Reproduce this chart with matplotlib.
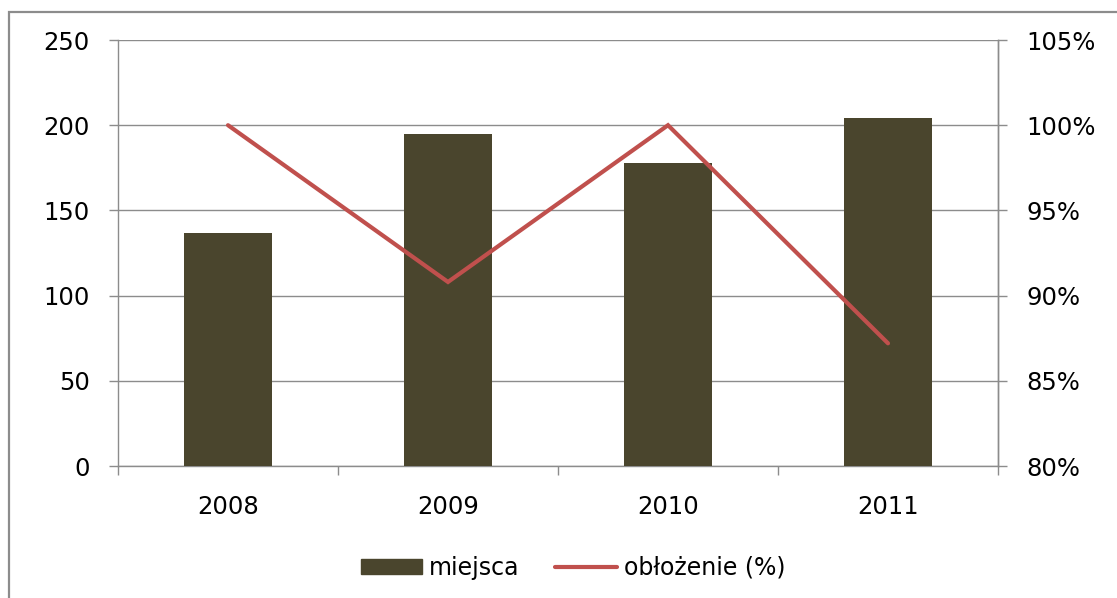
import matplotlib
matplotlib.use("Agg")
import matplotlib.pyplot as plt
import numpy as np
from matplotlib.ticker import FuncFormatter, FixedLocator
from matplotlib.patches import Rectangle
from matplotlib.lines import Line2D

years = ["2008", "2009", "2010", "2011"]
miejsca = [137, 195, 178, 204]
oblozenie = [1.00, 0.908, 1.00, 0.872]
left_ticks = [0, 50, 100, 150, 200, 250]
right_ticks = [0.80, 0.85, 0.90, 0.95, 1.00, 1.05]

bar_color = "#4A452D"
line_color = "#C0504D"
grid_color = "#8C8C8C"
fs = 17.5
lfs = 17

W, H = 1117, 598
fig = plt.figure(figsize=(W / 100, H / 100), dpi=100)
fig.patch.set_facecolor("white")

# outer chart border (left and top visible)
fig.add_artist(Rectangle((9 / W, -0.05), 1.2, (1 - 12 / H) + 0.05, transform=fig.transFigure,
                         fill=False, edgecolor="#8C8C8C", linewidth=1.6))

ax = fig.add_axes([118 / W, 1 - 466 / H, (998 - 118) / W, (466 - 40) / H])
x = np.arange(len(years))
ax.bar(x, miejsca, width=0.4, color=bar_color, zorder=3)
ax.set_xlim(-0.5, len(years) - 0.5)
ax.set_ylim(0, 250)
ax.set_yticks(left_ticks)
ax.yaxis.grid(True, color=grid_color, linewidth=1.0, zorder=0)
ax.set_axisbelow(True)
ax.set_xticks(x)
ax.set_xticklabels(years)
ax.xaxis.set_minor_locator(FixedLocator(np.arange(-0.5, len(years), 1.0)))
ax.tick_params(axis="x", which="major", length=0, pad=21, labelsize=fs, colors="#000000")
ax.tick_params(axis="x", which="minor", length=6.5, width=1.0, color=grid_color, direction="out")
ax.tick_params(axis="y", length=6.5, width=1.0, color=grid_color, pad=14, labelsize=fs)
for s in ["top"]:
    ax.spines[s].set_visible(False)
for s in ["left", "bottom", "right"]:
    ax.spines[s].set_color(grid_color)
    ax.spines[s].set_linewidth(1.0)

ax2 = ax.twinx()
ax2.plot(x, oblozenie, color=line_color, linewidth=3.0, solid_capstyle="round",
         solid_joinstyle="miter", zorder=4)
ax2.set_ylim(0.80, 1.05)
ax2.set_yticks(right_ticks)
ax2.yaxis.set_major_formatter(FuncFormatter(lambda v, p: f"{v * 100:.0f}%"))
ax2.tick_params(axis="y", length=6.5, width=1.0, color=grid_color, pad=14, labelsize=fs)
for s in ["top", "left", "bottom"]:
    ax2.spines[s].set_visible(False)
ax2.spines["right"].set_color(grid_color)
ax2.spines["right"].set_linewidth(1.0)

handles = [Rectangle((0, 0), 1, 1, color=bar_color),
           Line2D([0], [0], color=line_color, linewidth=3.0, solid_capstyle="round")]
fig.legend(handles, ["miejsca", "obłożenie (%)"], loc="center",
           bbox_to_anchor=(573 / W, 1 - 568 / H), ncol=2, frameon=False,
           fontsize=lfs, handlelength=2.6, handleheight=0.6, handletextpad=0.3,
           columnspacing=1.5)

fig.savefig("out.png", dpi=100, facecolor="white")
